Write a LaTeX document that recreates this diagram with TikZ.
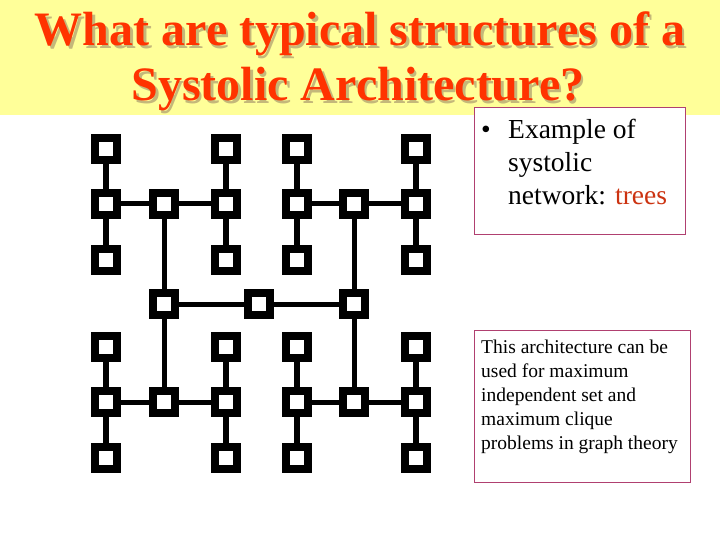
\documentclass[tikz,border=0pt]{standalone}
\usepackage{fontspec}
\setmainfont{Liberation Serif}
\definecolor{bandyellow}{HTML}{FFFF99}
\definecolor{titlered}{HTML}{FF3300}
\definecolor{titleshadow}{HTML}{C4B87A}
\definecolor{boxline}{HTML}{B04070}
\definecolor{treesred}{HTML}{CC3311}
\newcommand{\shadowed}[1]{\makebox[0pt][l]{\hspace{2.5pt}\raisebox{-2.5pt}{\textcolor{titleshadow}{#1}}}\textcolor{titlered}{#1}}
\begin{document}
\begin{tikzpicture}[x=1pt,y=-1pt,
  pe/.style={rectangle,draw=black,fill=white,line width=7.5pt,minimum size=22pt,inner sep=0pt},
  leafedge/.style={line width=6.5pt},
  link/.style={line width=5pt},
  titletext/.style={font=\fontsize{48}{48}\selectfont\bfseries,anchor=base,inner sep=0pt},
  infobox/.style={rectangle,draw=boxline,line width=1pt,inner sep=0pt},
  bigtext/.style={font=\fontsize{27.5}{33}\selectfont,anchor=base west,inner sep=0pt},
  smalltext/.style={font=\fontsize{19.5}{24}\selectfont,anchor=base west,inner sep=0pt}]
\useasboundingbox (0,0) rectangle (720,540);
\fill[white] (0,0) rectangle (720,540);
\fill[bandyellow] (0,0) rectangle (720,115);
% title with shadow
\node[titletext] (t1) at (360,46) {\shadowed{What are typical structures of a}};
\node[titletext] (t2) at (358,101) {\shadowed{Systolic Architecture?}};
% trees
\foreach \t/\xl/\xm/\xr/\yt/\ym/\yb in {a/106/164/226/149/204/260, b/297/354/416/149/204/260, c/106/164/226/347/402/458, d/297/354/416/347/402/458}{
  \node[pe] (\t1) at (\xl,\yt) {};
  \node[pe] (\t2) at (\xl,\yb) {};
  \node[pe] (\t3) at (\xr,\yt) {};
  \node[pe] (\t4) at (\xr,\yb) {};
  \node[pe] (\t5) at (\xl,\ym) {};
  \node[pe] (\t6) at (\xr,\ym) {};
  \node[pe] (\t7) at (\xm,\ym) {};
  \draw[leafedge] (\t1) -- (\t5);
  \draw[leafedge] (\t2) -- (\t5);
  \draw[leafedge] (\t3) -- (\t6);
  \draw[leafedge] (\t4) -- (\t6);
  \draw[link] (\t5) -- (\t7);
  \draw[link] (\t6) -- (\t7);
}
\node[pe] (r1) at (164,304) {};
\node[pe] (r0) at (259,304) {};
\node[pe] (r2) at (354,304) {};
\draw[link] (r1) -- (a7);
\draw[link] (r1) -- (c7);
\draw[link] (r2) -- (b7);
\draw[link] (r2) -- (d7);
\draw[link] (r0) -- (r1);
\draw[link] (r0) -- (r2);
% info boxes
\node[infobox,fill=white,minimum width=211pt,minimum height=126pt] (box1) at (579.5,171) {};
\node[bigtext] (bul) at (481,139) {•};
\node[bigtext] (l1) at (508,139) {Example of};
\node[bigtext] (l2) at (508,172) {systolic};
\node[bigtext] (l3) at (508,205) {network: \textcolor{treesred}{trees}};
\node[infobox,minimum width=216pt,minimum height=152pt] (box2) at (582,406) {};
\node[smalltext] (m1) at (481,353) {This architecture can be};
\node[smalltext] (m2) at (481,377) {used for maximum};
\node[smalltext] (m3) at (481,401) {independent set and};
\node[smalltext] (m4) at (481,425) {maximum clique};
\node[smalltext] (m5) at (481,449) {problems in graph theory};
\end{tikzpicture}
\end{document}
